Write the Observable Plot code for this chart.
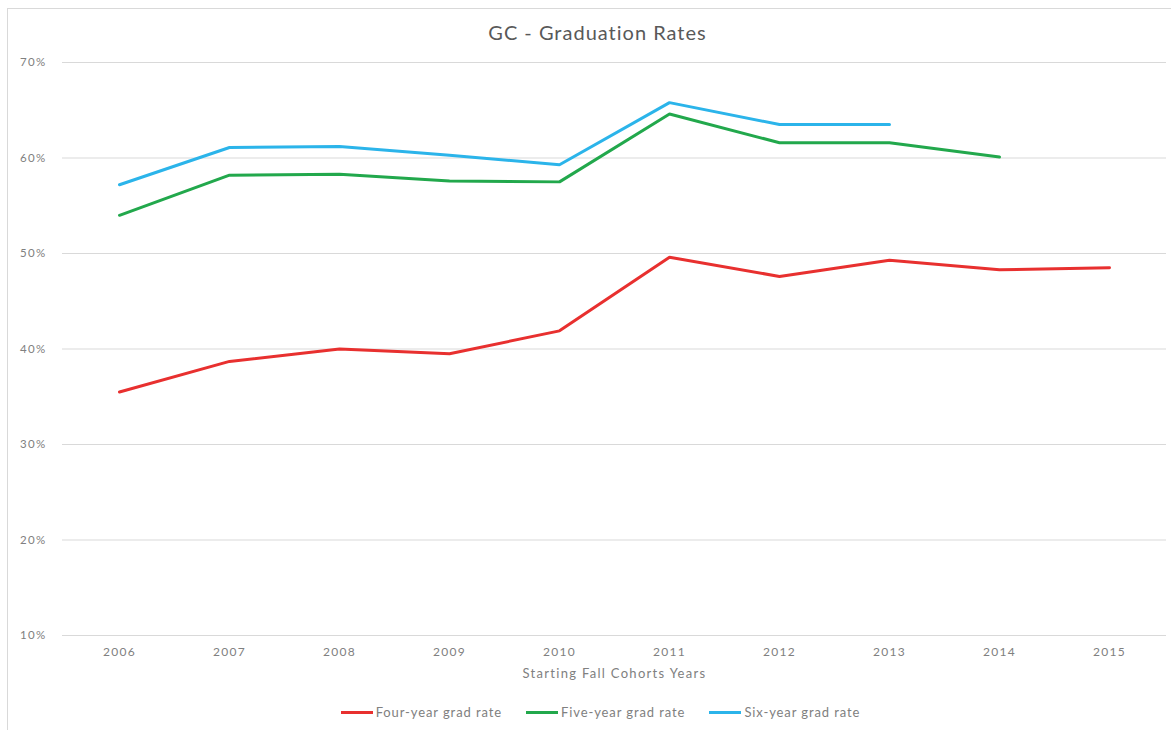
<!DOCTYPE html>
<html>
<head>
<meta charset="utf-8">
<script src="https://cdn.jsdelivr.net/npm/d3@7"></script>
<script src="https://cdn.jsdelivr.net/npm/@observablehq/plot@0.6"></script>
<style>
  html, body { margin: 0; padding: 0; background: #fff; }
  body { width: 1171px; height: 730px; position: relative; overflow: hidden; font-family: Lato, "Open Sans", sans-serif; }
  #frame { position: absolute; left: 7px; top: 8px; width: 1170px; height: 740px; border: 1px solid #d9d9d9; box-sizing: border-box; }
  #title { position: absolute; left: 12px; top: 20px; width: 1171px; text-align: center; font-size: 20px; letter-spacing: 1px; color: #595959; }
  #chart { position: absolute; left: 0; top: 50px; }
  #chart svg [aria-label="x-axis tick label"] text,
  #chart svg [aria-label="y-axis tick label"] text { letter-spacing: 1.3px; }
  #chart svg [aria-label="x-axis label"] text { letter-spacing: 1.3px; }
  #legend { position: absolute; left: 0; top: 704px; width: 1171px; display: flex; justify-content: center; gap: 24px; font-size: 13px; letter-spacing: 0.9px; color: #808080; padding-left: 30px; box-sizing: border-box; }
  #legend .item { display: flex; align-items: center; }
  #legend .swatch { width: 32px; height: 3px; margin-right: 3px; }
</style>
</head>
<body>
<div id="frame"></div>
<div id="title">GC - Graduation Rates</div>
<div id="chart"></div>
<div id="legend"></div>
<script>
// Starting fall cohorts and graduation rates (percent)
const years = ["2006", "2007", "2008", "2009", "2010", "2011", "2012", "2013", "2014", "2015"];
const fourYear = [35.5, 38.7, 40.0, 39.5, 41.9, 49.6, 47.6, 49.3, 48.3, 48.5];
const fiveYear = [54.0, 58.2, 58.3, 57.6, 57.5, 64.6, 61.6, 61.6, 60.1];
const sixYear = [57.2, 61.1, 61.2, 60.3, 59.3, 65.8, 63.5, 63.5];
const seriesNames = ["Four-year grad rate", "Five-year grad rate", "Six-year grad rate"];
const seriesColors = ["#e8302f", "#22a84c", "#2bb4ea"];
const yTicks = [0.1, 0.2, 0.3, 0.4, 0.5, 0.6, 0.7];

const rows = [];
[fourYear, fiveYear, sixYear].forEach((vals, i) => {
  vals.forEach((v, j) => rows.push({ series: seriesNames[i], year: years[j], rate: v / 100 }));
});

const chart = Plot.plot({
  width: 1171,
  height: 640,
  marginLeft: 62,
  marginRight: 5,
  marginTop: 12,
  marginBottom: 55,
  style: { fontFamily: "Lato, 'Open Sans', sans-serif", fontSize: "12px", color: "#808080", background: "transparent" },
  x: { type: "band", domain: years, padding: 0, label: null },
  y: { domain: [0.1, 0.7], label: null },
  color: { domain: seriesNames, range: seriesColors },
  marks: [
    Plot.gridY(yTicks, { stroke: "#d9d9d9", strokeOpacity: 1 }),
    Plot.axisY(yTicks, { tickSize: 0, tickPadding: 16, tickFormat: d3.format(".0%"), fill: "#808080", fontSize: 11.5 }),
    Plot.axisX({ tickSize: 0, tickPadding: 12, fill: "#808080", fontSize: 12, label: "Starting Fall Cohorts Years", labelAnchor: "center", labelArrow: "none", labelOffset: 42 }),
    Plot.line(rows, { x: "year", y: "rate", z: "series", stroke: "series", strokeWidth: 3, strokeLinejoin: "miter", curve: "linear" })
  ]
});
document.getElementById("chart").appendChild(chart);
// axis title slightly larger than tick labels
chart.querySelectorAll('[aria-label="x-axis label"] text').forEach(t => t.setAttribute("font-size", 13));

const legend = document.getElementById("legend");
seriesNames.forEach((name, i) => {
  const item = document.createElement("div");
  item.className = "item";
  const sw = document.createElement("span");
  sw.className = "swatch";
  sw.style.background = seriesColors[i];
  const label = document.createElement("span");
  label.textContent = name;
  item.appendChild(sw);
  item.appendChild(label);
  legend.appendChild(item);
});
</script>
</body>
</html>
